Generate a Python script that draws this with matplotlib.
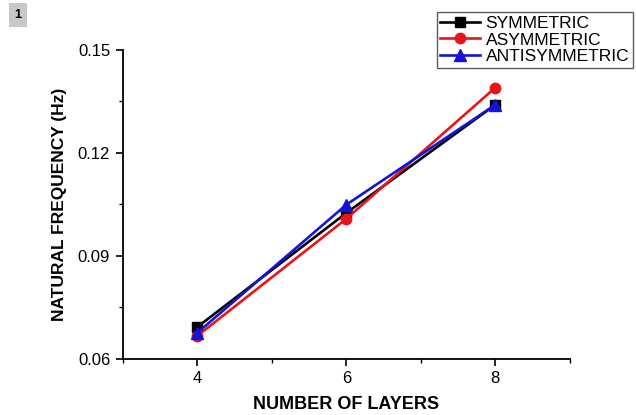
import matplotlib.pyplot as plt
from matplotlib.ticker import MultipleLocator

plt.rcParams['font.family'] = ['Liberation Sans', 'DejaVu Sans']

# data
layers = [4, 6, 8]
symmetric = [0.0693, 0.1025, 0.1340]
asymmetric = [0.0667, 0.1008, 0.1390]
antisymmetric = [0.0676, 0.1049, 0.1340]

fig = plt.figure(figsize=(6.36, 4.15), dpi=100)
ax = fig.add_axes([0.193, 0.135, 0.703, 0.745])

ax.plot(layers, symmetric, color='black', marker='s', markersize=7, linewidth=1.9, label='SYMMETRIC')
ax.plot(layers, asymmetric, color='#e8141a', marker='o', markersize=7.5, linewidth=1.9, label='ASYMMETRIC')
ax.plot(layers, antisymmetric, color='#1414d8', marker='^', markersize=8, linewidth=1.9, label='ANTISYMMETRIC')

ax.set_xlim(3, 9)
ax.set_ylim(0.06, 0.15)
ax.set_xticks([4, 6, 8])
ax.set_yticks([0.06, 0.09, 0.12, 0.15])
ax.set_yticklabels(['0.06', '0.09', '0.12', '0.15'])
ax.xaxis.set_minor_locator(MultipleLocator(1))
ax.yaxis.set_minor_locator(MultipleLocator(0.015))

for side in ['top', 'right']:
    ax.spines[side].set_visible(False)
for side in ['left', 'bottom']:
    ax.spines[side].set_linewidth(1.3)

ax.tick_params(which='major', direction='out', length=5, width=1.2, labelsize=12, pad=4)
ax.tick_params(which='minor', direction='out', length=3, width=1.0)

ax.set_xlabel('NUMBER OF LAYERS', fontsize=13, fontweight='bold', labelpad=7)
ax.set_ylabel('NATURAL FREQUENCY (Hz)', fontsize=12.5, fontweight='bold', labelpad=8)

leg = fig.legend(loc='upper left', bbox_to_anchor=(437 / 636, 1 - 12 / 415),
                 fontsize=12.5, frameon=True, fancybox=False, handlelength=2.3,
                 handletextpad=0.3, labelspacing=0.1, borderpad=0.2, borderaxespad=0)
leg.get_frame().set_edgecolor('#333333')
leg.get_frame().set_linewidth(1.0)

fig.text(18 / 636, 1 - 15 / 415, '1', fontsize=9, fontweight='bold', ha='center', va='center',
         bbox=dict(boxstyle='square,pad=0.45', facecolor='#c8c8c8', edgecolor='none'))

fig.savefig('out.png', dpi=100)
